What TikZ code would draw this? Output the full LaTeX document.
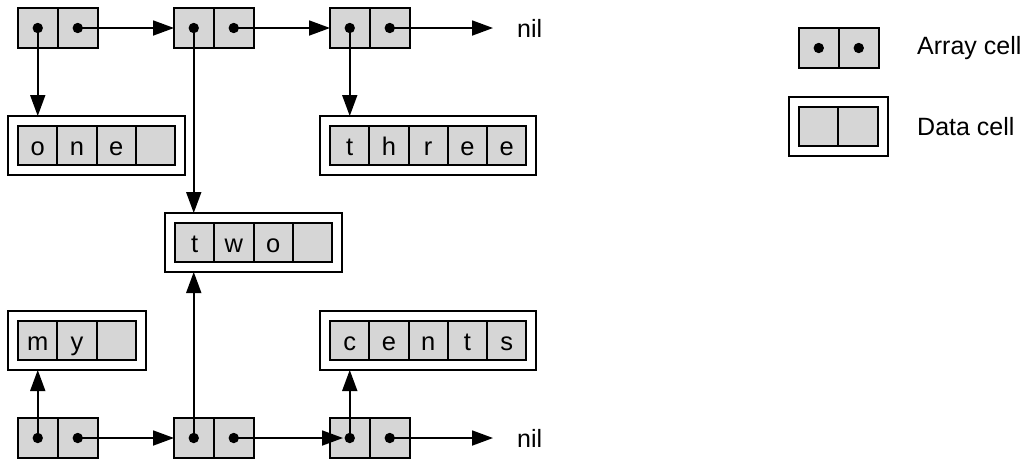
\documentclass[tikz,border=0pt]{standalone}
\usepackage{fontspec}
\setmainfont{Liberation Sans}
\usetikzlibrary{arrows.meta,fit}
\definecolor{cellgray}{HTML}{D6D6D6}
\tikzset{
  box/.style={draw=black, line width=2pt, fill=cellgray, inner sep=0pt, outer sep=0pt},
  acell/.style={box, minimum width=79.5pt, minimum height=40pt},
  dcell/.style={box, minimum width=39.25pt, minimum height=39pt,
    text height=24.5pt, text depth=5pt, font=\fontsize{25.5}{30}\selectfont},
  frame/.style={draw=black, line width=2pt, inner sep=10pt, outer sep=0pt},
  link/.style={line width=1.8pt, -{Triangle[length=21pt,width=15pt]}},
  txt/.style={font=\fontsize{25}{30}\selectfont, inner sep=0pt, anchor=west},
}
% array cell: name, left x, centre y
\newcommand\arraycell[3]{%
  \node[acell, anchor=west] (#1) at (#2,#3) {};
  \draw[line width=2pt] (#1.north) -- (#1.south);
  \path (#1.center) ++(-20,0) coordinate (#1-l) ++(40,0) coordinate (#1-r);
}
% data cell: name, left x, top y, number of slots, letters
\newcommand\datacell[5]{%
  \foreach \c [count=\i] in {#5} {
    \node[dcell, anchor=north west] (#1-\i) at ({#2+(\i-1)*39.25},#3) {\c};
  }
  \node[frame, fit=(#1-1)(#1-#4)] (#1) {};
}
\newcommand\celldots[1]{%
  \fill (#1-l) circle (5.2pt);
  \fill (#1-r) circle (5.2pt);
}
\begin{document}
\begin{tikzpicture}[x=1pt,y=-1pt]
\useasboundingbox (0,0) rectangle (1025,459);

% top list
\arraycell{a1}{18}{28}
\arraycell{a2}{174}{28}
\arraycell{a3}{330}{28}
% bottom list
\arraycell{b1}{18}{438}
\arraycell{b2}{174}{438}
\arraycell{b3}{330}{438}

% strings
\datacell{one}{18}{126}{4}{o,n,e,{}}
\datacell{three}{330}{126}{5}{t,h,r,e,e}
\datacell{two}{175}{223}{4}{t,w,o,{}}
\datacell{my}{18}{321}{3}{m,y,{}}
\datacell{cents}{330}{321}{5}{c,e,n,t,s}

% list terminators
\node[txt] (nil1) at (517,28) {nil};
\node[txt] (nil2) at (517,438) {nil};

% links of the top list
\draw[link] (a1-r) -- (a2.west);
\draw[link] (a2-r) -- (a3.west);
\draw[link] (a3-r) -- ([xshift=-24pt]nil1.west);
\draw[link] (a1-l) -- (a1-l |- one.north);
\draw[link] (a2-l) -- (a2-l |- two.north);
\draw[link] (a3-l) -- (a3-l |- three.north);

% links of the bottom list
\draw[link] (b1-r) -- (b2.west);
\draw[link] (b2-r) -- ([xshift=13pt]b3.west);
\draw[link] (b3-r) -- ([xshift=-24pt]nil2.west);
\draw[link] (b1-l) -- (b1-l |- my.south);
\draw[link] (b2-l) -- (b2-l |- two.south);
\draw[link] (b3-l) -- (b3-l |- cents.south);

\celldots{a1}\celldots{a2}\celldots{a3}
\celldots{b1}\celldots{b2}\celldots{b3}

% legend
\arraycell{la}{799}{48}
\celldots{la}
\node[txt] (lat) at (917,48) {Array cell};
\datacell{ld}{799}{107}{2}{{},{}}
\node[txt] (ldt) at (917,127) {Data cell};
\end{tikzpicture}
\end{document}
